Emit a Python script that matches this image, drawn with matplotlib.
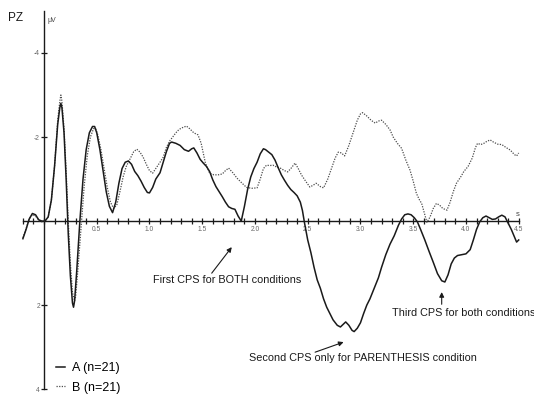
import numpy as np
import matplotlib
matplotlib.use("Agg")
import matplotlib.pyplot as plt
from matplotlib.lines import Line2D

plt.rcParams['font.family'] = ['Liberation Sans', 'DejaVu Sans']

# ---- data (time in s, amplitude in microvolts; negative plotted upward) ----
t_a = [-0.20, -0.17, -0.14, -0.11, -0.08, -0.05, -0.02, 0.01, 0.04, 0.07, 0.10, 0.13, 0.15, 0.16, 0.17,
       0.19, 0.21, 0.23, 0.25, 0.27, 0.28, 0.29, 0.31, 0.34, 0.37, 0.40, 0.43, 0.46, 0.48, 0.50, 0.53,
       0.56, 0.59, 0.62, 0.65, 0.68, 0.71, 0.74, 0.77, 0.80, 0.83, 0.86, 0.89, 0.92, 0.95, 0.98, 1.00,
       1.03, 1.06, 1.10, 1.13, 1.16, 1.19, 1.21, 1.25, 1.29, 1.33, 1.37, 1.40, 1.42, 1.45, 1.48, 1.51,
       1.54, 1.57, 1.60, 1.63, 1.66, 1.69, 1.72, 1.75, 1.78, 1.81, 1.84, 1.87, 1.90, 1.93, 1.96, 1.99,
       2.02, 2.05, 2.08, 2.10, 2.13, 2.16, 2.19, 2.22, 2.25, 2.28, 2.31, 2.34, 2.37, 2.40, 2.43, 2.45,
       2.47, 2.50, 2.53, 2.56, 2.59, 2.62, 2.65, 2.68, 2.71, 2.74, 2.78, 2.81, 2.84, 2.86, 2.89, 2.92,
       2.94, 2.97, 3.00, 3.03, 3.06, 3.09, 3.13, 3.17, 3.20, 3.24, 3.28, 3.32, 3.36, 3.39, 3.42, 3.45,
       3.48, 3.51, 3.54, 3.57, 3.61, 3.65, 3.69, 3.73, 3.77, 3.80, 3.83, 3.86, 3.89, 3.92, 3.96, 4.00,
       4.04, 4.07, 4.10, 4.13, 4.16, 4.19, 4.22, 4.25, 4.28, 4.31, 4.34, 4.37, 4.40, 4.43, 4.46, 4.48, 4.50]
v_a = [0.42, 0.20, -0.05, -0.18, -0.15, -0.03, 0.00, 0.00, -0.10, -0.50, -1.30, -2.30, -2.70, -2.80, -2.70,
       -2.10, -1.00, 0.30, 1.30, 1.95, 2.05, 1.90, 1.20, 0.00, -1.00, -1.70, -2.10, -2.25, -2.25, -2.10, -1.70,
       -1.20, -0.70, -0.35, -0.20, -0.45, -0.90, -1.25, -1.40, -1.43, -1.35, -1.18, -1.08, -0.95, -0.80, -0.68, -0.67,
       -0.80, -1.00, -1.15, -1.40, -1.65, -1.85, -1.88, -1.85, -1.80, -1.70, -1.66, -1.72, -1.74, -1.62, -1.47, -1.38,
       -1.30, -1.18, -0.98, -0.82, -0.70, -0.58, -0.45, -0.34, -0.30, -0.28, -0.12, 0.00, -0.35, -0.75, -1.05, -1.25,
       -1.40, -1.60, -1.72, -1.70, -1.64, -1.58, -1.45, -1.27, -1.10, -0.97, -0.85, -0.75, -0.68, -0.60, -0.45, -0.25,
       0.05, 0.45, 0.75, 1.10, 1.40, 1.60, 1.85, 2.05, 2.20, 2.35, 2.48, 2.52, 2.45, 2.40, 2.48, 2.60,
       2.63, 2.55, 2.42, 2.20, 2.00, 1.85, 1.60, 1.35, 1.10, 0.80, 0.55, 0.35, 0.10, -0.05, -0.15, -0.17,
       -0.15, -0.08, 0.02, 0.20, 0.45, 0.72, 0.98, 1.25, 1.42, 1.45, 1.28, 1.02, 0.88, 0.82, 0.80, 0.78,
       0.68, 0.45, 0.20, 0.02, -0.08, -0.12, -0.08, -0.04, -0.05, -0.10, -0.14, -0.10, 0.05, 0.20, 0.38, 0.50, 0.45]

t_b = [-0.20, -0.17, -0.14, -0.11, -0.08, -0.05, -0.02, 0.01, 0.04, 0.07, 0.10, 0.13, 0.15, 0.16, 0.17,
       0.19, 0.21, 0.23, 0.25, 0.27, 0.29, 0.30, 0.32, 0.35, 0.38, 0.41, 0.44, 0.47, 0.49, 0.51, 0.54,
       0.57, 0.60, 0.63, 0.66, 0.69, 0.72, 0.75, 0.78, 0.82, 0.85, 0.88, 0.91, 0.94, 0.97, 1.00, 1.03,
       1.06, 1.10, 1.13, 1.16, 1.19, 1.22, 1.25, 1.28, 1.31, 1.35, 1.38, 1.42, 1.46, 1.49, 1.53, 1.57,
       1.61, 1.65, 1.69, 1.72, 1.75, 1.79, 1.83, 1.87, 1.92, 1.97, 2.02, 2.05, 2.08, 2.11, 2.14, 2.17,
       2.21, 2.24, 2.28, 2.31, 2.34, 2.38, 2.41, 2.44, 2.48, 2.52, 2.55, 2.58, 2.62, 2.65, 2.69, 2.73,
       2.76, 2.79, 2.82, 2.85, 2.89, 2.93, 2.97, 3.00, 3.02, 3.06, 3.10, 3.14, 3.17, 3.20, 3.24, 3.28,
       3.31, 3.35, 3.39, 3.43, 3.47, 3.50, 3.53, 3.56, 3.58, 3.61, 3.63, 3.66, 3.69, 3.72, 3.75, 3.78,
       3.82, 3.85, 3.88, 3.91, 3.95, 3.98, 4.02, 4.06, 4.09, 4.11, 4.14, 4.17, 4.20, 4.23, 4.26, 4.30,
       4.34, 4.38, 4.42, 4.46, 4.48, 4.50]
v_b = [0.40, 0.18, -0.05, -0.15, -0.12, -0.02, 0.02, 0.00, -0.10, -0.50, -1.30, -2.40, -2.85, -3.00, -2.85,
       -2.20, -1.20, 0.00, 1.00, 1.70, 1.90, 1.80, 1.20, 0.20, -0.80, -1.55, -2.00, -2.20, -2.20, -2.05, -1.70,
       -1.25, -0.80, -0.45, -0.30, -0.38, -0.70, -1.05, -1.30, -1.50, -1.65, -1.71, -1.64, -1.52, -1.35, -1.20, -1.14,
       -1.25, -1.40, -1.52, -1.75, -1.90, -2.00, -2.10, -2.18, -2.22, -2.26, -2.20, -2.10, -2.05, -1.85, -1.38, -1.14,
       -1.10, -1.10, -1.12, -1.20, -1.26, -1.15, -1.02, -0.92, -0.80, -0.78, -0.79, -1.00, -1.25, -1.33, -1.32, -1.33,
       -1.28, -1.26, -1.20, -1.17, -1.25, -1.38, -1.25, -1.10, -0.95, -0.81, -0.85, -0.90, -0.82, -0.79, -1.00, -1.29,
       -1.50, -1.64, -1.62, -1.55, -1.80, -2.10, -2.40, -2.55, -2.58, -2.50, -2.40, -2.33, -2.38, -2.40, -2.30, -2.17,
       -2.00, -1.85, -1.73, -1.45, -1.21, -0.95, -0.66, -0.50, -0.42, -0.15, 0.03, -0.10, -0.30, -0.42, -0.38, -0.30,
       -0.26, -0.45, -0.70, -0.90, -1.05, -1.18, -1.30, -1.50, -1.75, -1.85, -1.82, -1.85, -1.90, -1.93, -1.88, -1.83,
       -1.82, -1.75, -1.69, -1.58, -1.55, -1.62]

series_labels = ["A (n=21)", "B (n=21)"]
x_ticks = [round(x, 1) for x in np.arange(-0.2, 4.51, 0.1)]
x_ticklabels = ["0.5", "1.0", "1.5", "2.0", "2.5", "3.0", "3.5", "4.0", "4.5"]
y_ticks = [-4, -2, 2, 4]
y_ticklabels = ["-4", "-2", "2", "4"]

# ---- figure ----
fig = plt.figure(figsize=(5.34, 3.98), dpi=100)
ax = fig.add_axes([0, 0, 1, 1])
ax.set_xlim(-0.417, 4.645)
ax.set_ylim(4.21, -5.26)
ax.patch.set_alpha(0)

ax.plot(t_b, v_b, color='#4d4d4d', lw=0.9, ls=(0, (1, 1.1)), label=series_labels[1], zorder=3)
ax.plot(t_a, v_a, color='#1a1a1a', lw=1.1, label=series_labels[0], zorder=4)

for s in ['top', 'right']:
    ax.spines[s].set_visible(False)
ax.spines['left'].set_position(('data', 0))
ax.spines['bottom'].set_position(('data', 0))
ax.spines['left'].set_bounds(4, -5.0)
ax.spines['bottom'].set_bounds(-0.2, 4.5)
for s in ['left', 'bottom']:
    ax.spines[s].set_linewidth(1.0)
    ax.spines[s].set_color('#1a1a1a')

labmap = {}
for lab in x_ticklabels:
    labmap[float(lab)] = lab
ax.set_xticks(x_ticks)
ax.set_xticklabels([labmap.get(x, "") for x in x_ticks])
ax.set_yticks(y_ticks)
ax.set_yticklabels(y_ticklabels)
ax.tick_params(axis='x', direction='inout', length=4.8, width=0.9, color='#1a1a1a',
               labelsize=4.8, labelcolor='#666666', pad=1.2)
ax.tick_params(axis='y', direction='inout', length=4.8, width=0.9, color='#1a1a1a',
               labelsize=4.8, labelcolor='#666666', pad=0.5)

ax.text(4.49, -0.08, 's', fontsize=5.5, color='#444444', ha='center', va='bottom')
ax.text(0.035, -4.78, 'μV', fontsize=5, color='#444444', ha='left', va='center')
fig.text(8 / 534, 1 - 18 / 398, 'PZ', fontsize=8.5, color='#1a1a1a', ha='left', va='center')

# annotations
fs = 7.8
ax.text(1.74, 1.40, 'First CPS for BOTH conditions', fontsize=fs, ha='center', va='center', color='#1a1a1a')
ax.annotate('', xy=(1.78, 0.62), xytext=(1.59, 1.24),
            arrowprops=dict(arrowstyle='-|>', lw=0.8, color='#1a1a1a', mutation_scale=7, shrinkA=0, shrinkB=0))
ax.text(3.02, 3.26, 'Second CPS only for PARENTHESIS condition', fontsize=fs, ha='center', va='center', color='#1a1a1a')
ax.annotate('', xy=(2.84, 2.88), xytext=(2.57, 3.12),
            arrowprops=dict(arrowstyle='-|>', lw=0.8, color='#1a1a1a', mutation_scale=7, shrinkA=0, shrinkB=0))
ax.text(3.98, 2.19, 'Third CPS for both conditions', fontsize=fs, ha='center', va='center', color='#1a1a1a')
ax.annotate('', xy=(3.77, 1.69), xytext=(3.77, 1.98),
            arrowprops=dict(arrowstyle='-|>', lw=0.8, color='#1a1a1a', mutation_scale=7, shrinkA=0, shrinkB=0))

handles = [Line2D([], [], color='#1a1a1a', lw=1.1),
           Line2D([], [], color='#4d4d4d', lw=0.9, ls=(0, (1, 1.1)))]
leg = ax.legend(handles, series_labels, loc='upper left', bbox_to_anchor=(56 / 534, 1 - 362 / 398),
                bbox_transform=fig.transFigure, frameon=False, fontsize=9, borderpad=0, borderaxespad=0,
                handlelength=0.7, handletextpad=0.6, labelspacing=0.6)

fig.savefig('out.png', dpi=100)
